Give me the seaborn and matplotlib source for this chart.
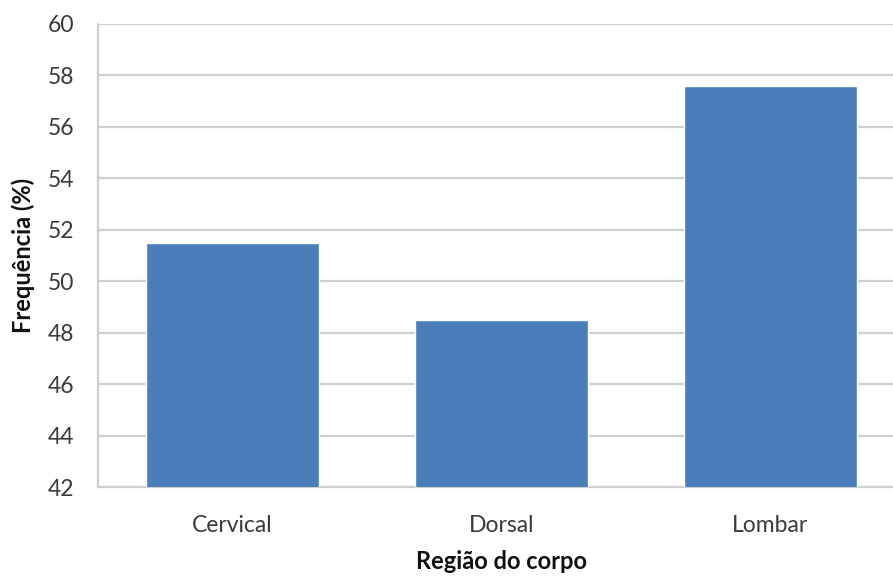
import matplotlib
matplotlib.use("Agg")
import matplotlib.pyplot as plt
import seaborn as sns
import pandas as pd

regioes = ["Cervical", "Dorsal", "Lombar"]
frequencia = [51.5, 48.5, 57.6]
y_ticks = [42, 44, 46, 48, 50, 52, 54, 56, 58, 60]

sns.set_theme(style="white")
plt.rcParams["font.family"] = ["Lato", "DejaVu Sans"]

df = pd.DataFrame({"Região": regioes, "Frequência": frequencia})

fig = plt.figure(figsize=(8.93, 5.76), dpi=100)
W, H = 893, 576
left, right, top, bottom = 98, 905, 24, 487
ax = fig.add_axes([left / W, 1 - bottom / H, (right - left) / W, (bottom - top) / H])

sns.barplot(data=df, x="Região", y="Frequência", color="#4a7ebb",
            width=0.643, saturation=1, ax=ax, zorder=3)

ax.set_ylim(42, 60)
ax.set_xlim(-0.5, 2.5)
ax.set_yticks(y_ticks)
ax.set_yticklabels([str(t) for t in y_ticks])
ax.yaxis.grid(True, color="#cfcfcf", linewidth=1.6, zorder=0)
ax.set_axisbelow(True)

for s in ["top", "right"]:
    ax.spines[s].set_visible(False)
for s in ["left", "bottom"]:
    ax.spines[s].set_color("#cfcfcf")
    ax.spines[s].set_linewidth(1.6)

ax.tick_params(axis="both", length=0, labelsize=16.5, colors="#3a3a3a")
ax.tick_params(axis="y", pad=17)
ax.tick_params(axis="x", pad=20)

ax.set_xlabel("Região do corpo", fontsize=17, fontweight="bold", color="#111111", labelpad=10)
ax.set_ylabel("Frequência (%)", fontsize=17, fontweight="bold", color="#111111", labelpad=9)

fig.savefig("out.png", dpi=100)
